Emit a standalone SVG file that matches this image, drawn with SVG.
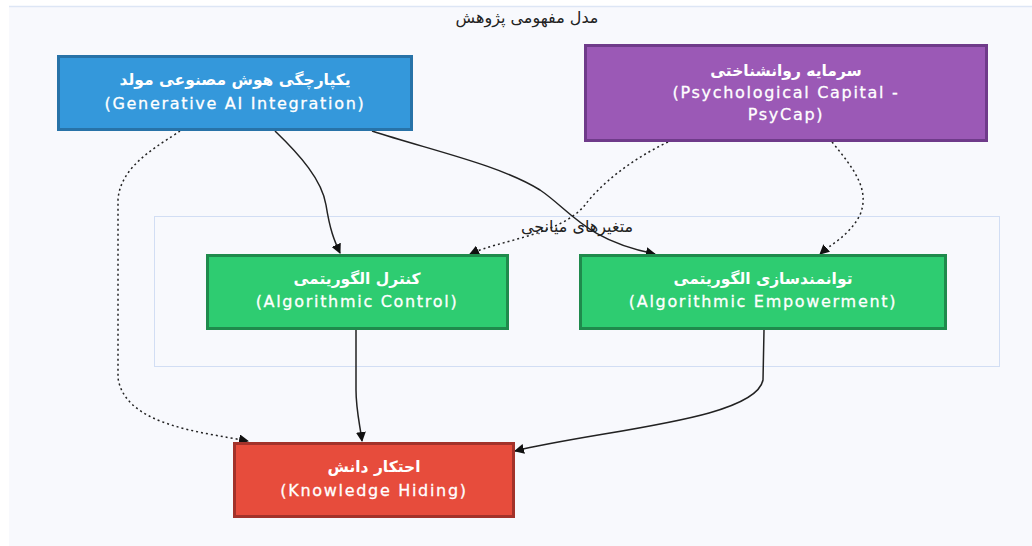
<svg xmlns="http://www.w3.org/2000/svg" width="1032" height="546" viewBox="0 0 1032 546">
<defs>
<style>
.nt{font-family:"DejaVu Sans","Noto Sans",sans-serif;font-size:16px;fill:#ffffff;text-anchor:middle;letter-spacing:1.7px;stroke:#ffffff;stroke-width:0.3px}
.fa{font-weight:bold;font-size:15.5px;letter-spacing:0;stroke:none}
.lbl{font-family:"DejaVu Sans","Liberation Sans",sans-serif;font-size:16px;fill:#222;text-anchor:middle}
.e{fill:none;stroke:#222;stroke-width:1.5}
.d{stroke-dasharray:2 3}
</style>
<marker id="ah" viewBox="0 0 10 10" refX="9" refY="5" markerWidth="10" markerHeight="10" markerUnits="userSpaceOnUse" orient="auto">
<path d="M0,0 L10,5 L0,10 z" fill="#111"/>
</marker>
</defs>
<rect x="0" y="0" width="1032" height="546" fill="#ffffff"/>
<rect x="9" y="6" width="1030" height="546" fill="#f8f9fd"/>
<line x1="9" y1="6.5" x2="1032" y2="6.5" stroke="#dde6f5" stroke-width="1.5"/>
<text class="lbl" x="527" y="23">مدل مفهومی پژوهش</text>
<g id="subgraph">
<rect x="154.5" y="216.5" width="845" height="150" fill="#f8f9fd" stroke="#d2def4" stroke-width="1"/>
<text class="lbl" x="577" y="232">متغیرهای میانجی</text>
</g>
<g id="connectors">
<path class="e" d="M275,131 C300,155 322,180 326,205 C330,230 334,240 340,253" marker-end="url(#ah)"/>
<path class="e" d="M372,131 C430,150 500,165 540,190 C570,210 585,240 655,254" marker-end="url(#ah)"/>
<path class="e d" d="M180,131 C160,145 120,165 118,200 L118,378 C125,425 200,432 248,441" marker-end="url(#ah)"/>
<path class="e d" d="M668,142 C630,160 600,185 585,205 C560,235 500,240 470,254" marker-end="url(#ah)"/>
<path class="e d" d="M832,142 C855,170 870,190 860,215 C850,235 830,245 820,254" marker-end="url(#ah)"/>
<path class="e" d="M356,330 L356,390 C356,410 360,425 362,441" marker-end="url(#ah)"/>
<path class="e" d="M764,330 L763,380 C755,420 600,430 515,451" marker-end="url(#ah)"/>
</g>
<g id="n-genai">
<rect x="58.5" y="56.5" width="353" height="73" fill="#3498db" stroke="#2873a8" stroke-width="3"/>
<text class="nt fa" x="235" y="85">یکپارچگی هوش مصنوعی مولد</text>
<text class="nt" x="235" y="109">(Generative AI Integration)</text>
</g>
<g id="n-psycap">
<rect x="585.5" y="45.5" width="401" height="95" fill="#9b59b6" stroke="#6f3b8a" stroke-width="3"/>
<text class="nt fa" x="786" y="76">سرمایه روانشناختی</text>
<text class="nt" x="786" y="98">(Psychological Capital -</text>
<text class="nt" x="786" y="120">PsyCap)</text>
</g>
<g id="n-control">
<rect x="207.5" y="255.5" width="300" height="73" fill="#2ecc71" stroke="#1f8a4c" stroke-width="3"/>
<text class="nt fa" x="357" y="284">کنترل الگوریتمی</text>
<text class="nt" x="357" y="307">(Algorithmic Control)</text>
</g>
<g id="n-empower">
<rect x="580.5" y="255.5" width="365" height="73" fill="#2ecc71" stroke="#1f8a4c" stroke-width="3"/>
<text class="nt fa" x="763" y="284">توانمندسازی الگوریتمی</text>
<text class="nt" x="763" y="307">(Algorithmic Empowerment)</text>
</g>
<g id="n-hiding">
<rect x="234.5" y="443.5" width="279" height="73" fill="#e74c3c" stroke="#a3322a" stroke-width="3"/>
<text class="nt fa" x="374" y="472">احتکار دانش</text>
<text class="nt" x="374" y="496">(Knowledge Hiding)</text>
</g>
</svg>
